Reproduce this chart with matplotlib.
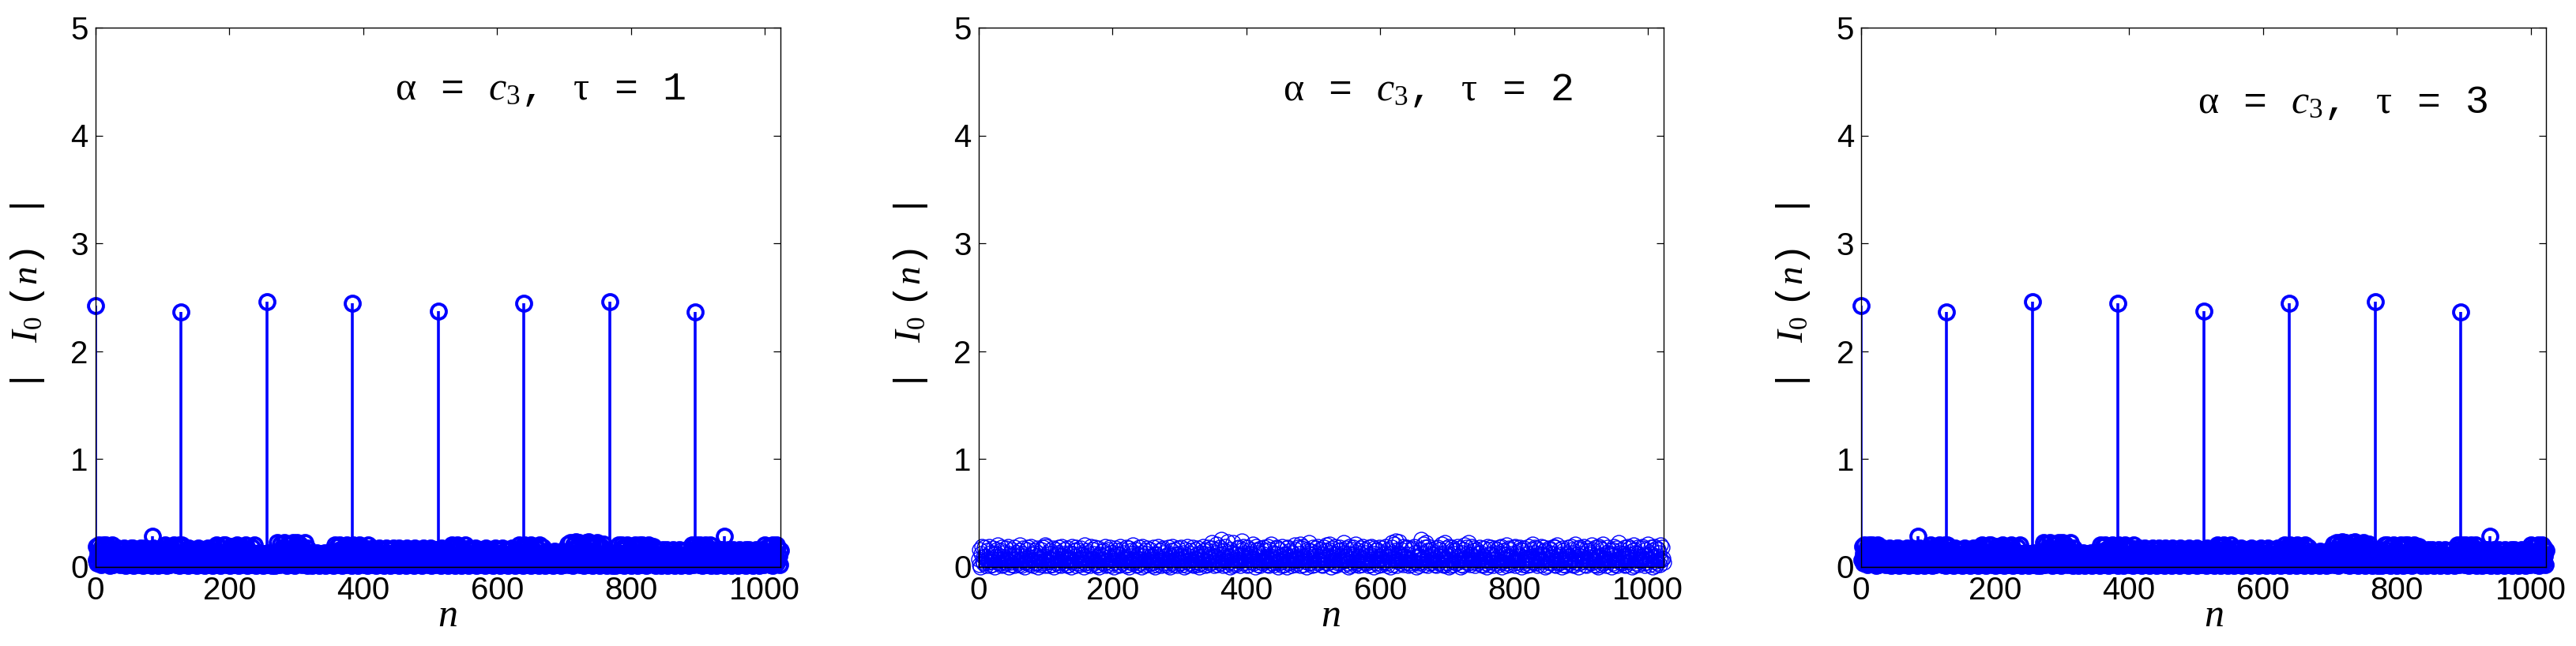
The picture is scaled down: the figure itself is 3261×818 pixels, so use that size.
import numpy as np
import matplotlib
matplotlib.use("Agg")
import matplotlib.pyplot as plt

plt.rcParams['font.family'] = ['Liberation Sans', 'DejaVu Sans']
plt.rcParams['mathtext.fontset'] = 'custom'
plt.rcParams['mathtext.rm'] = 'Liberation Mono'
plt.rcParams['mathtext.it'] = 'Liberation Serif:italic'
plt.rcParams['mathtext.sf'] = 'Liberation Serif'

# ---------------- data ----------------
x_ticks = [0, 200, 400, 600, 800, 1000]
y_ticks = [0, 1, 2, 3, 4, 5]
tau_values = ['1', '2', '3']

# large periodic peaks (panels tau=1 and tau=3)
spike_n = [0, 128, 256, 384, 512, 640, 768, 896]
spike_vals = [2.42, 2.36, 2.46, 2.44, 2.37, 2.44, 2.46, 2.36]
# two isolated small bumps (panels tau=1 and tau=3)
bump_n = [85, 939]
bump_vals = [0.28, 0.28]

# background magnitudes, one letter per sample n: 'a'=0.00, 'b'=0.01, ... 'z'=0.25
noise_tau13_rows = [
    ["kgtdmuhe", "qctjuemi", "udkshtbn", "gucpjfld", "mrehqcki", "dpgrkbnf", "ieqclrgj", "rbmhdqfk"],
    ["hcqgrelb", "pjdrfmch", "qegkbhdr", "lcpfiqbm", "eknrcgjd", "uhblsfpc", "itdqkueg", "mcsjhube"],
    ["kuftcimd", "qgbnrehk", "dpjclqfb", "mgrdkhcq", "ienbpjgd", "rchmfqkb", "lsdiguce", "ntfbjrhu"],
    ["dkugcpmf", "ibtelqhc", "sjdumgbr", "fkctihpd", "ugmbqenj", "chsfkudl", "bmgjcnfh", "dkbmfice"],
    ["fncjdhmb", "kdgnbilc", "wfpcvjmd", "shwekqbu", "gnvcjrdw", "mhbtfwkd", "qvegcsin", "dwhkbrfm"],
    ["cjnfbhkd", "mgcniebl", "hdkmcjfn", "bgldnhci", "fmcjbkun", "dtgpcuhk", "qbmselcu", "hjrdntgb"],
    ["kuepcjtg", "bmufqdhs", "ickrgnbu", "fjdqlhcr", "emibpkgd", "rhcnfqjb", "ldgrcmeh", "qbkfirdn"],
    ["gcpjmbrh", "dkqfcieo", "brglndjq", "fcmhbrke", "iqdngcpl", "bhrejmdq", "kcfnirbg", "pdlhcqem"],
    ["kqdhbreg", "jcnfqdlb", "hrcmuegk", "tbpicudj", "mgsbfqkc", "uhdnjbrf", "cmgqdkie", "rbhnfcpl"],
    ["dqgkcmbr", "ejhpdnfc", "qlbigrdm", "hcqfkbne", "rjdgmcpi", "bfqhlcrd", "kgnbqejc", "mudrhtfb"],
    ["kufsctmd", "hqbuejpc", "tgkdrhbu", "ficmsdlg", "bnohcjfl", "dkgmbioe", "hcnfjdlb", "oiemcgkd"],
    ["lfvcnhwd", "qbuiegxk", "dshwcpfv", "jbtmdwgq", "cxhkesbv", "gndujcwf", "mbrhtdkv", "ecnhbkfd"],
    ["jndhbmcg", "kbnfdiue", "qcugjsbm", "tdhukcqf", "bpgsdnut", "eibrkufc", "mudhqgsb", "jcufprdk"],
    ["gthcmbqe", "jdpfkbgq", "cmhdiqfb", "lejcpgdq", "hbnkfdmc", "qigbjpeh", "dlcqfkbn", "gjdutckh"],
    ["kudsgpcu", "hetbkqfu", "jcrgdmub", "gkqcpdhf", "bmjeqcgk", "dqhnbpfj", "cqmgdkbi", "qfclhpeg"],
    ["bjqdmhcp", "gldqbkfi", "qcnhejbp", "dmgqcfkh", "bpjdqgmc", "uehskdtg", "ctjubmqe", "hudsgkcp"],
]

noise_tau2_rows = [
    ["hcqamtfj", "dskbgpie", "tbnfhcrl", "amjequgd", "kpbshcnf", "rdigtamk", "ecqhlbsg", "jnfdpcuh"],
    ["bmrgkaei", "qfsdjcth", "lgbnpdke", "rahmcqfj", "sdkbutge", "ibpfmhcr", "gajqdlns", "cekbtfhm"],
    ["qdigbrjc", "nhatemfp", "kbsqdgic", "mrhflaju", "dpcnegkb", "thqimdsf", "bjcragle", "okhpdtbm"],
    ["fcqjsbin", "dgakrepm", "hbltcfqd", "nijgbshc", "raekpmdu", "gfjqbcil", "sdhnatke", "bpgmrcfj"],
    ["qdkhbsel", "amcjtgpf", "ibqrndhc", "kegsbmaj", "pdtfcqli", "hbrmgdks", "ecnajfqb", "tkdhpmgc"],
    ["sbfiqelr", "cjadnhkt", "gpmbqfsc", "idlhrwej", "bknvgcqf", "sdhzmbjp", "tgcixkea", "qfnbwhdl"],
    ["cmrhgsfb", "kyqdtjne", "gbsicqml", "fhvdkatp", "qcnjberg", "mdshpfic", "tbkqgvdj", "nhcemsra"],
    ["gdqkfbti", "lcmhrasd", "jpegbnkf", "ucqhdsmi", "bvgrtcjk", "fhaqmwdp", "elbsigcn", "rkdthfqj"],
    ["mcbgsepu", "hkdqvnfa", "jrlgctbm", "idpseqhk", "fwncgrjd", "amtbhqle", "skcvfdgp", "bjmhrcti"],
    ["eqgndkbs", "lfcthjar", "mpdqgbsk", "ihcrelnf", "tdbjqgma", "kwschvpy", "gbfnxmjd", "qhctkrei"],
    ["slbgdhcq", "rfjtneak", "dgbkqzmf", "hvcswjpb", "tkdqhmel", "gcribfsd", "qjmhvckb", "nwerdgta"],
    ["lbhsqcfm", "pdjtkegr", "achnbqui", "sfmdwgcl", "kteprbjh", "qdmgsfnc", "ibrjkhda", "tfqcmsle"],
    ["bgkrdhqn", "jcsfteam", "phldubgk", "rqcjfmis", "dbtgnhek", "lsqapcrf", "gidbmtjh", "cqkvfens"],
    ["drgbjqmh", "tcflspak", "ibhernqd", "gjmtcsbf", "ukdlqhea", "rcpgibmj", "sfkdhtqc", "nbgvejlr"],
    ["adsqkmhf", "tcigbrpj", "elnduqgc", "hfsbmakt", "jrcqvdgi", "ebnlshfp", "mkaqdtcj", "grbhwfne"],
    ["qdkmisbc", "fhtjlreg", "apbuqndk", "smchgfjt", "ridbqlek", "vhcgmspa", "jtfbkrdq", "nchugsie"],
]


def decode(rows):
    s = "".join("".join(r) for r in rows)
    return np.array([(ord(ch) - ord('a')) / 100.0 for ch in s])


mag_tau13 = decode(noise_tau13_rows)
mag_tau13[spike_n] = spike_vals
mag_tau13[bump_n] = bump_vals
mag_tau2 = decode(noise_tau2_rows)

series = [mag_tau13, mag_tau2, mag_tau13]

# ---------------- figure ----------------
W, H, DPI = 3262, 818, 200
fig = plt.figure(figsize=(W / DPI, H / DPI), dpi=DPI)

lefts = [120.7, 1238.7, 2356.0]
ax_w, ax_bottom, ax_top = 867.0, 717.5, 35.0
styles = [dict(lw=1.3, mew=1.4), dict(lw=0.45, mew=0.5), dict(lw=1.3, mew=1.4)]
ann_x = [448, 455, 503]
ann_y = [4.42, 4.42, 4.30]

for i in range(3):
    ax = fig.add_axes([lefts[i] / W, 1 - ax_bottom / H, ax_w / W, (ax_bottom - ax_top) / H])
    vals = series[i]
    n = np.arange(len(vals))
    ml, sl, bl = ax.stem(n, vals, basefmt='k-')
    sl.set_color('blue')
    sl.set_linewidth(styles[i]['lw'])
    ml.set_marker('o')
    ml.set_markerfacecolor('none')
    ml.set_markeredgecolor('blue')
    ml.set_markersize(6.8)
    ml.set_markeredgewidth(styles[i]['mew'])
    ml.set_clip_on(False)
    bl.set_linewidth(0.5)

    ax.set_xlim(0, 1023)
    ax.set_ylim(0, 5)
    ax.set_xticks(x_ticks)
    ax.set_yticks(y_ticks)
    ax.tick_params(direction='in', top=True, right=True, length=3.2, width=0.45,
                   labelsize=14.5, colors='black')
    ax.tick_params(axis='y', pad=3.2)
    ax.tick_params(axis='x', pad=4.0)
    for sp in ax.spines.values():
        sp.set_linewidth(0.5)

    ax.text(0.5 + 13 / ax_w, -(781 - ax_bottom) / (ax_bottom - ax_top), 'n',
            transform=ax.transAxes, ha='center', va='center',
            fontsize=18, family='Liberation Serif', style='italic')
    ax.text(-0.099, 0.5, r'$|\ \ \ I_{\mathsf{0}}\,\,(n)\ \ \ |$', transform=ax.transAxes,
            rotation=90, ha='center', va='center', fontsize=17)
    ax.text(ann_x[i], ann_y[i],
            r'$\mathsf{\alpha}\ \ =\ \ c_{\mathsf{3}}\mathit{,}\ \ \ \mathsf{\tau}\ \ =\ \ \mathrm{' + tau_values[i] + '}$',
            ha='left', va='center', fontsize=18)

fig.savefig('out.png', dpi=DPI)
